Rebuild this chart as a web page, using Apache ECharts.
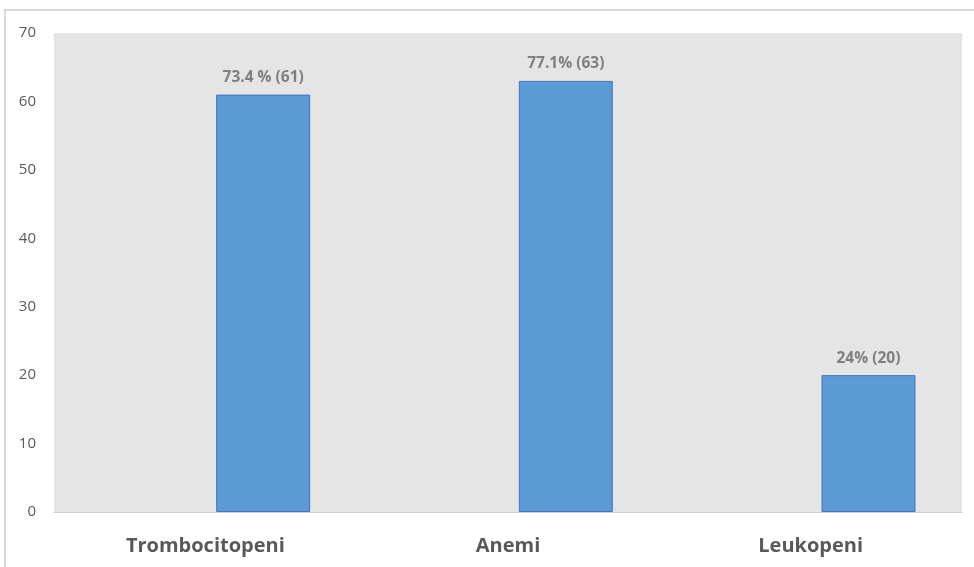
<!DOCTYPE html>
<html>
<head>
<meta charset="utf-8">
<script src="https://cdn.jsdelivr.net/npm/echarts@6/dist/echarts.min.js"></script>
<style>html,body{margin:0;padding:0;background:#fff}#c{width:974px;height:567px}</style>
</head>
<body>
<div id="c"></div>
<script>
const categories = ['Trombocitopeni', 'Anemi', 'Leukopeni'];
const counts = [61, 63, 20];
const valueLabels = ['73.4 % (61)', '77.1% (63)', '24% (20)'];
const emptySeries = [null, null, null];

const chart = echarts.init(document.getElementById('c'));
chart.setOption({
  animation: false,
  backgroundColor: '#ffffff',
  graphic: [{
    type: 'rect', silent: true, z: -1,
    shape: { x: 5, y: 10, width: 1000, height: 600 },
    style: { fill: 'none', stroke: '#d9d9d9', lineWidth: 2 }
  }],
  grid: { left: 54, top: 33, right: 12, bottom: 55, show: true, backgroundColor: '#e5e5e5', borderWidth: 0 },
  xAxis: {
    type: 'category', data: categories,
    axisLine: { show: true, lineStyle: { color: '#d0d0d0', width: 1 } },
    axisTick: { show: false },
    axisLabel: { color: '#595959', fontFamily: 'Open Sans', fontWeight: 'bold', fontSize: 20, margin: 24 }
  },
  yAxis: {
    type: 'value', min: 0, max: 70, interval: 10,
    axisLine: { show: false }, axisTick: { show: false },
    splitLine: { show: false },
    axisLabel: { color: '#595959', fontFamily: 'Open Sans', fontSize: 15, margin: 18 }
  },
  series: [
    { type: 'bar', data: emptySeries, barWidth: 94, barGap: '23%' },
    {
      type: 'bar', data: counts, barWidth: 94, barGap: '23%',
      itemStyle: { color: '#5b9bd5', borderColor: '#4472c4', borderWidth: 1 },
      label: {
        show: true, position: 'top', distance: 9,
        color: '#7f7f7f', fontFamily: 'Open Sans', fontWeight: 'bold', fontSize: 15.5,
        formatter: p => valueLabels[p.dataIndex]
      }
    }
  ]
});
</script>
</body>
</html>
